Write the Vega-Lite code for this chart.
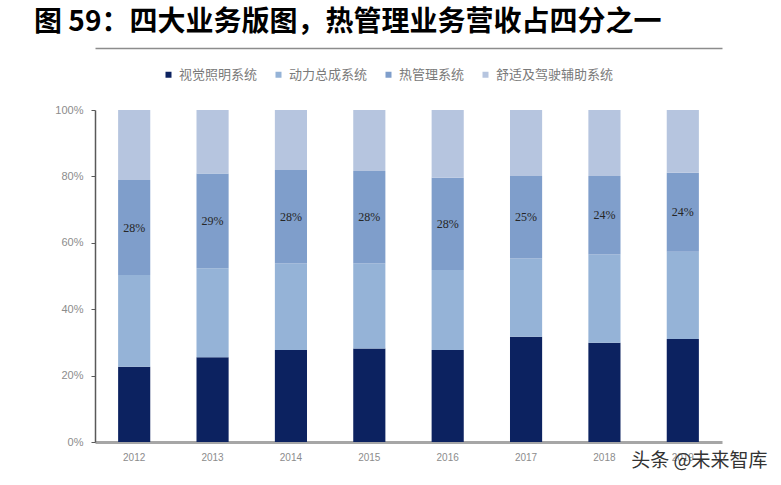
{
  "$schema": "https://vega.github.io/schema/vega-lite/v6.json",
  "width": 627,
  "height": 332,
  "autosize": {"type": "none"},
  "padding": {"left": 95, "top": 110, "right": 59, "bottom": 43},
  "background": "white",
  "title": {
    "text": "图 59：四大业务版图，热管理业务营收占四分之一",
    "anchor": "start",
    "frame": "group",
    "dx": -61,
    "dy": -7,
    "font": "Noto Sans CJK SC",
    "fontSize": 28,
    "fontWeight": "bold",
    "color": "#000000"
  },
  "config": {
    "view": {"stroke": null},
    "font": "Noto Sans CJK SC"
  },
  "data": {
    "values": [
      {"year": "2012", "seg": "视觉照明系统", "ord": 1, "share": 22.7, "label": ""},
      {"year": "2012", "seg": "动力总成系统", "ord": 2, "share": 27.6, "label": ""},
      {"year": "2012", "seg": "热管理系统", "ord": 3, "share": 28.6, "label": "28%"},
      {"year": "2012", "seg": "舒适及驾驶辅助系统", "ord": 4, "share": 21.1, "label": ""},
      {"year": "2013", "seg": "视觉照明系统", "ord": 1, "share": 25.5, "label": ""},
      {"year": "2013", "seg": "动力总成系统", "ord": 2, "share": 26.8, "label": ""},
      {"year": "2013", "seg": "热管理系统", "ord": 3, "share": 28.6, "label": "29%"},
      {"year": "2013", "seg": "舒适及驾驶辅助系统", "ord": 4, "share": 19.1, "label": ""},
      {"year": "2014", "seg": "视觉照明系统", "ord": 1, "share": 27.7, "label": ""},
      {"year": "2014", "seg": "动力总成系统", "ord": 2, "share": 26.1, "label": ""},
      {"year": "2014", "seg": "热管理系统", "ord": 3, "share": 28.1, "label": "28%"},
      {"year": "2014", "seg": "舒适及驾驶辅助系统", "ord": 4, "share": 18.1, "label": ""},
      {"year": "2015", "seg": "视觉照明系统", "ord": 1, "share": 28.2, "label": ""},
      {"year": "2015", "seg": "动力总成系统", "ord": 2, "share": 25.6, "label": ""},
      {"year": "2015", "seg": "热管理系统", "ord": 3, "share": 27.8, "label": "28%"},
      {"year": "2015", "seg": "舒适及驾驶辅助系统", "ord": 4, "share": 18.4, "label": ""},
      {"year": "2016", "seg": "视觉照明系统", "ord": 1, "share": 27.7, "label": ""},
      {"year": "2016", "seg": "动力总成系统", "ord": 2, "share": 24.1, "label": ""},
      {"year": "2016", "seg": "热管理系统", "ord": 3, "share": 27.8, "label": "28%"},
      {"year": "2016", "seg": "舒适及驾驶辅助系统", "ord": 4, "share": 20.4, "label": ""},
      {"year": "2017", "seg": "视觉照明系统", "ord": 1, "share": 31.7, "label": ""},
      {"year": "2017", "seg": "动力总成系统", "ord": 2, "share": 23.6, "label": ""},
      {"year": "2017", "seg": "热管理系统", "ord": 3, "share": 24.8, "label": "25%"},
      {"year": "2017", "seg": "舒适及驾驶辅助系统", "ord": 4, "share": 19.9, "label": ""},
      {"year": "2018", "seg": "视觉照明系统", "ord": 1, "share": 29.9, "label": ""},
      {"year": "2018", "seg": "动力总成系统", "ord": 2, "share": 26.6, "label": ""},
      {"year": "2018", "seg": "热管理系统", "ord": 3, "share": 23.6, "label": "24%"},
      {"year": "2018", "seg": "舒适及驾驶辅助系统", "ord": 4, "share": 19.9, "label": ""},
      {"year": "2019", "seg": "视觉照明系统", "ord": 1, "share": 31.0, "label": ""},
      {"year": "2019", "seg": "动力总成系统", "ord": 2, "share": 26.3, "label": ""},
      {"year": "2019", "seg": "热管理系统", "ord": 3, "share": 23.8, "label": "24%"},
      {"year": "2019", "seg": "舒适及驾驶辅助系统", "ord": 4, "share": 18.9, "label": ""}
    ]
  },
  "layer": [
    {
      "mark": {"type": "bar"},
      "encoding": {
        "x": {
          "field": "year",
          "type": "ordinal",
          "scale": {"paddingInner": 0.59, "paddingOuter": 0.295},
          "axis": {
            "orient": "bottom",
            "title": "头条 @未来智库",
            "titleX": 672,
            "titleY": 18,
            "titleAlign": "right",
            "titleBaseline": "middle",
            "titleFont": "Noto Sans CJK SC",
            "titleFontSize": 19,
            "titleFontWeight": "normal",
            "titleColor": "#333333",
            "labelAngle": 0,
            "labelFont": "Liberation Sans",
            "labelFontSize": 10,
            "labelColor": "#8c8c8c",
            "labelPadding": 10,
            "ticks": false,
            "domainColor": "#a6a6a6",
            "domainWidth": 3
          }
        },
        "y": {
          "field": "share",
          "type": "quantitative",
          "stack": "zero",
          "scale": {"domain": [0, 100]},
          "axis": {
            "title": null,
            "values": [0, 20, 40, 60, 80, 100],
            "labelExpr": "datum.value + '%'",
            "labelFont": "Liberation Sans",
            "labelFontSize": 11,
            "labelColor": "#8c8c8c",
            "labelPadding": 8,
            "tickSize": 4,
            "tickColor": "#595959",
            "domainColor": "#595959",
            "domainWidth": 1.5,
            "grid": false
          }
        },
        "order": {"field": "ord", "type": "quantitative", "sort": "ascending"},
        "color": {
          "field": "seg",
          "type": "nominal",
          "sort": ["视觉照明系统", "动力总成系统", "热管理系统", "舒适及驾驶辅助系统"],
          "scale": {
            "domain": ["视觉照明系统", "动力总成系统", "热管理系统", "舒适及驾驶辅助系统"],
            "range": ["#0c2260", "#95b3d7", "#7f9ecb", "#b6c5df"]
          },
          "legend": {
            "title": null,
            "orient": "none",
            "direction": "horizontal",
            "legendX": 67,
            "legendY": -42,
            "symbolType": "square",
            "symbolSize": 36,
            "symbolStrokeWidth": 0,
            "labelFont": "Noto Sans CJK SC",
            "labelFontSize": 13,
            "labelColor": "#7a7a7a",
            "labelOffset": 4,
            "columnPadding": 14
          }
        }
      }
    },
    {
      "transform": [
        {"stack": "share", "groupby": ["year"], "sort": [{"field": "ord", "order": "ascending"}], "as": ["s0", "s1"]},
        {"filter": "datum.label != ''"},
        {"calculate": "(datum.s0 + datum.s1) / 2", "as": "mid"}
      ],
      "mark": {"type": "text", "font": "Liberation Sans Narrow", "fontSize": 12, "color": "#262626"},
      "encoding": {
        "x": {
          "field": "year",
          "type": "ordinal",
          "axis": {
            "orient": "top",
            "offset": 62,
            "labels": false,
            "ticks": false,
            "title": null,
            "domainColor": "#8c8c8c",
            "domainWidth": 1.5
          }
        },
        "y": {"field": "mid", "type": "quantitative", "scale": {"domain": [0, 100]}, "axis": {"title": null}},
        "text": {"field": "label"}
      }
    }
  ],
  "resolve": {"axis": {"x": "independent"}}
}
